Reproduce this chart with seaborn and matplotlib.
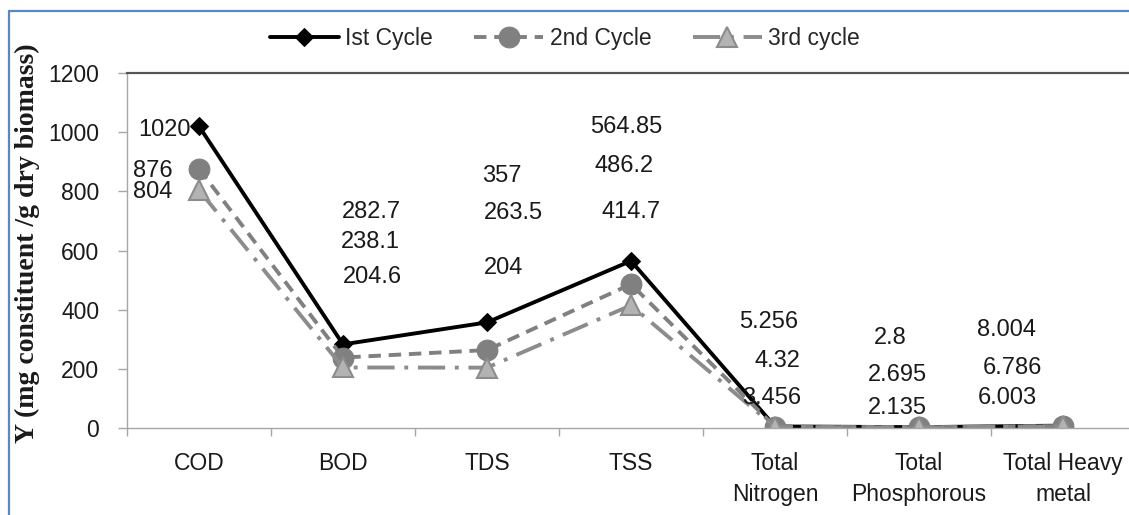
import matplotlib
matplotlib.use("Agg")
import matplotlib.pyplot as plt
import seaborn as sns
import pandas as pd
from matplotlib.lines import Line2D

# Constituent categories on the x axis
categories = ["COD", "BOD", "TDS", "TSS", "Total\nNitrogen",
              "Total\nPhosphorous", "Total Heavy\nmetal"]
cycle_names = ["Ist Cycle", "2nd Cycle", "3rd cycle"]

# Uptake per cycle (mg constituent / g dry biomass)
cycle1 = [1020, 282.7, 357, 564.85, 5.256, 2.8, 8.004]
cycle2 = [876, 238.1, 263.5, 486.2, 4.32, 2.695, 6.786]
cycle3 = [804, 204.6, 204, 414.7, 3.456, 2.135, 6.003]
label_text1 = ["1020", "282.7", "357", "564.85", "5.256", "2.8", "8.004"]
label_text2 = ["876", "238.1", "263.5", "486.2", "4.32", "2.695", "6.786"]
label_text3 = ["804", "204.6", "204", "414.7", "3.456", "2.135", "6.003"]

y_ticks = [0, 200, 400, 600, 800, 1000, 1200]

# Value-label offsets from each marker, in pixels (x right, y up)
offsets1 = [(-34, -4), (28, 132), (15, 146), (-5, 134), (-6, 104), (-29, 89), (-56, 96)]
offsets2 = [(-46, -2), (27, 116), (26, 137), (-7, 118), (2, 66), (-22, 52), (-51, 58)]
offsets3 = [(-46, -2), (29, 90), (17, 100), (0, 93), (-3, 29), (-22, 19), (-56, 28)]

sns.set_style("white")
plt.rcParams["font.family"] = ["Liberation Sans", "DejaVu Sans"]

W, H = 1129, 515
fig = plt.figure(figsize=(W / 100, H / 100), dpi=100)
ax = fig.add_axes([127 / W, 87 / H, 1008 / W, 355 / H])

frames = []
for name, vals in zip(cycle_names, [cycle1, cycle2, cycle3]):
    frames.append(pd.DataFrame({"pos": range(len(categories)),
                                "value": vals, "cycle": name}))
df = pd.concat(frames, ignore_index=True)

styles = {
    "Ist Cycle": dict(color="black", marker="D", markersize=9,
                      markerfacecolor="black", markeredgecolor="black",
                      linestyle="-", linewidth=2.8),
    "2nd Cycle": dict(color="#808080", marker="o", markersize=15,
                      markerfacecolor="#808080", markeredgecolor="#808080",
                      linestyle=(0, (3.2, 2.0)), linewidth=2.8),
    "3rd cycle": dict(color="#8c8c8c", marker="^", markersize=15,
                      markerfacecolor="#b3b3b3", markeredgecolor="#8c8c8c",
                      markeredgewidth=1.5,
                      linestyle=(0, (7, 2.5, 1, 2.5)), linewidth=2.8),
}

handles = []
for name in cycle_names:
    sub = df[df["cycle"] == name]
    sns.lineplot(data=sub, x="pos", y="value", ax=ax, legend=False,
                 errorbar=None, sort=False, **styles[name])
    handles.append(ax.get_lines()[-1])

# Value labels
for vals, texts, offs in [(cycle1, label_text1, offsets1),
                          (cycle2, label_text2, offsets2),
                          (cycle3, label_text3, offsets3)]:
    for i, (v, t, o) in enumerate(zip(vals, texts, offs)):
        ax.annotate(t, xy=(i, v), xytext=o, textcoords="offset pixels",
                    ha="center", va="center", fontsize=17, color="#1a1a1a")

ax.set_xlim(-0.5, len(categories) - 0.5)
ax.set_ylim(0, 1200)
ax.set_yticks(y_ticks)
ax.set_xticks(range(len(categories)))
ax.set_xticklabels(categories, linespacing=1.45)
ax.set_xticks([i - 0.5 for i in range(len(categories) + 1)], minor=True)
ax.set_xlabel("")
ax.set_ylabel("")

ax.tick_params(axis="y", length=6.5, width=1, color="#a6a6a6", pad=13.5,
               labelsize=16.5, labelcolor="#1a1a1a", left=True)
ax.tick_params(axis="x", which="major", length=0, pad=17,
               labelsize=16.5, labelcolor="#1a1a1a")
ax.tick_params(axis="x", which="minor", length=6, width=1,
               color="#a6a6a6", bottom=True)

for side in ["left", "bottom"]:
    ax.spines[side].set_color("#a6a6a6")
    ax.spines[side].set_linewidth(1)
ax.spines["top"].set_color("#555555")
ax.spines["top"].set_linewidth(1.6)
ax.spines["right"].set_visible(False)
ax.grid(False)

fig.text(27 / W, 1 - 243 / H, "Y (mg constituent /g dry biomass)",
         rotation=90, ha="center", va="center", fontsize=20,
         family="Liberation Serif", weight="bold", color="#1a1a1a")

fig.legend(handles=handles, labels=cycle_names, loc="center",
           bbox_to_anchor=(565 / W, 1 - 39 / H), ncol=3, frameon=False,
           fontsize=16.5, handlelength=3, columnspacing=1.8,
           handletextpad=0.3)

# Blue chart-area border along the top and left edges
fig.add_artist(Line2D([8.5 / W, 1.0], [1 - 11 / H, 1 - 11 / H],
                      transform=fig.transFigure, color="#5a86c5", linewidth=1.6))
fig.add_artist(Line2D([8.5 / W, 8.5 / W], [0.0, 1 - 11 / H],
                      transform=fig.transFigure, color="#5a86c5", linewidth=1.6))

fig.savefig("out.png", dpi=100)
